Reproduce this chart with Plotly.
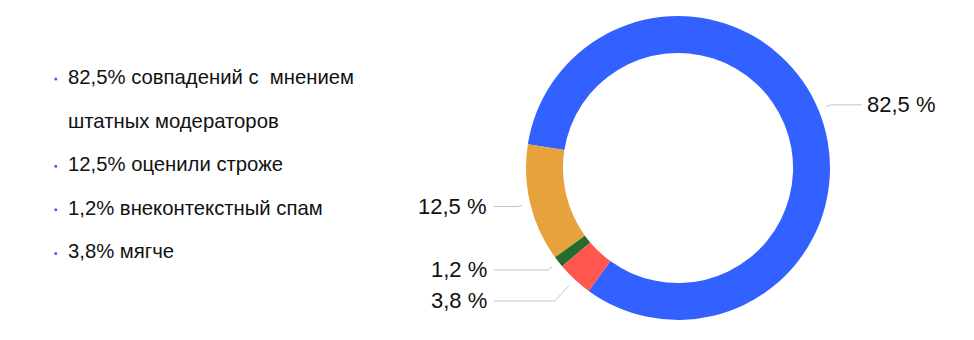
import math
import plotly.graph_objects as go

# ---- data ----
VALUES = [82.5, 12.5, 1.2, 3.8]
LEGEND_TEXT = [
    ["совпадений с\u00a0 мнением", "штатных модераторов"],
    ["оценили строже"],
    ["внеконтекстный спам"],
    ["мягче"],
]
COLORS = ["#3361FF", "#E5A23D", "#256B2E", "#FF574D"]

# ---- layout constants ----
W, H = 974, 340
CX, CY, R = 678, 168, 152
HOLE = 0.757
ROT = 279
FONT = "Liberation Sans, Arial, Helvetica, sans-serif"
TXT = "#111111"
LINE = "#c6c6c6"


def px(x):
    return x / W


def py(y):
    return 1 - y / H


def fmt(v):
    return f"{v:.1f}".replace(".", ",")


fig = go.Figure(
    go.Pie(
        values=VALUES,
        sort=False,
        direction="counterclockwise",
        rotation=ROT,
        hole=HOLE,
        marker=dict(colors=COLORS, line=dict(width=0)),
        textinfo="none",
        hoverinfo="skip",
        showlegend=False,
        domain=dict(x=[px(CX - R), px(CX + R)], y=[py(CY + R), py(CY - R)]),
    )
)

# ---- slice mid angles (clockwise from 12 o'clock), following plotly's layout ----
total = sum(VALUES)
ang = [v / total * 360 for v in VALUES]
mids = [ROT + ang[0] / 2]
cur = ROT
for a in ang[1:]:
    mids.append(cur - a / 2)
    cur -= a

shapes = []
annotations = []
R1, R2 = 160, 165
GAP = 31
items = []
for v, m in zip(VALUES, mids):
    t = math.radians(m)
    s, c = math.sin(t), -math.cos(t)
    items.append(dict(v=v, s=s, c=c, right=s > 0, y2=CY + R2 * c))

for side in (True, False):
    grp = sorted([it for it in items if it["right"] == side], key=lambda d: d["y2"])
    last = -1e9
    for it in grp:
        y2 = max(it["y2"], last + GAP)
        last = y2
        x1, y1 = CX + R1 * it["s"], CY + R1 * it["c"]
        if abs(it["c"]) > 1e-6:
            k = (y2 - CY) / it["c"]
        else:
            k = R2
        x2 = CX + k * it["s"]
        xe = CX + (184 if side else -184)
        xt = CX + (187 if side else -189)
        shapes.append(dict(
            type="path", xref="paper", yref="paper",
            path=f"M {px(x1)},{py(y1)} L {px(x2)},{py(y2)} L {px(xe)},{py(y2)}",
            line=dict(color=LINE, width=1),
        ))
        annotations.append(dict(
            x=px(xt), y=py(y2), xref="paper", yref="paper",
            text=f"{fmt(it['v'])}\u00a0%", showarrow=False,
            xanchor="left" if side else "right", yanchor="middle",
            font=dict(size=22, color=TXT, family=FONT),
        ))

# ---- custom legend ----
ROW0, STEP = 77, 43.6
row = 0
for v, lines in zip(VALUES, LEGEND_TEXT):
    yb = ROW0 + row * STEP
    shapes.append(dict(
        type="circle", xref="paper", yref="paper",
        x0=px(54.3), x1=px(57.3), y0=py(yb + 3.5), y1=py(yb + 0.5),
        fillcolor=COLORS[0], line=dict(width=0),
    ))
    for j, ln in enumerate(lines):
        txt = f"{fmt(v)}% {ln}" if j == 0 else ln
        annotations.append(dict(
            x=px(66), y=py(ROW0 + row * STEP), xref="paper", yref="paper",
            text=txt, showarrow=False, xanchor="left", yanchor="middle",
            font=dict(size=20.3, color=TXT, family=FONT),
        ))
        row += 1

fig.update_layout(
    width=W, height=H,
    margin=dict(l=0, r=0, t=0, b=0),
    paper_bgcolor="white", plot_bgcolor="white",
    shapes=shapes, annotations=annotations,
    showlegend=False,
)

fig.write_html("out.html")
